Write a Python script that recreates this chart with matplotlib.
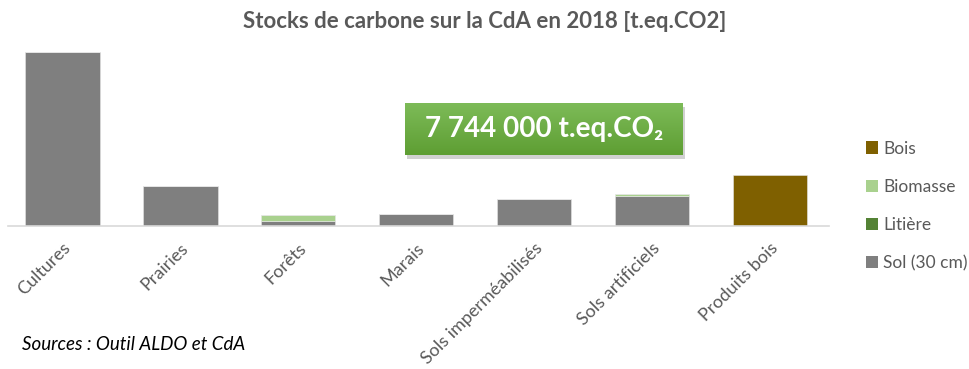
import matplotlib
matplotlib.use("Agg")
import matplotlib.pyplot as plt
import numpy as np
from matplotlib.patches import Patch, Rectangle

# Carbon stocks per land use, t.eq.CO2
categories = ["Cultures", "Prairies", "Forêts", "Marais",
              "Sols imperméabilisés", "Sols artificiels", "Produits bois"]
sol      = [3883000, 903000, 121000, 275000, 595000, 661000, 0]
litiere  = [0, 0, 0, 0, 0, 0, 0]
biomasse = [0, 0, 126000, 0, 0, 59000, 0]
bois     = [0, 0, 0, 0, 0, 0, 1146000]
total_label = "7 744 000 t.eq.CO₂"

series = [("Sol (30 cm)", sol, "#7F7F7F"),
          ("Litière", litiere, "#548235"),
          ("Biomasse", biomasse, "#A9D18E"),
          ("Bois", bois, "#7F6000")]

FONT = ["Lato", "DejaVu Sans"]
GREY_TXT = "#595959"

fig = plt.figure(figsize=(9.70, 3.69), dpi=100)
ax = fig.add_axes([3.5 / 970, 1 - 226 / 369, 825.5 / 970, 181 / 369])

x = np.arange(len(categories))
bottom = np.zeros(len(categories))
for name, vals, col in series:
    vals = np.array(vals, dtype=float)
    ax.bar(x, vals, 0.63, bottom=bottom, color=col, edgecolor="#E6E6E6",
           linewidth=0.4, label=name, zorder=2)
    bottom += vals

ax.set_xlim(-0.5, len(categories) - 0.5)
ax.set_ylim(0, max(bottom) * 181 / 174)
for s in ["top", "right", "left"]:
    ax.spines[s].set_visible(False)
ax.spines["bottom"].set_color("#D9D9D9")
ax.spines["bottom"].set_linewidth(1.2)
ax.spines["bottom"].set_bounds(-0.46, len(categories) - 0.5)
ax.set_yticks([])
ax.set_xticks(x)
ax.set_xticklabels(categories, rotation=45, ha="right", va="top",
                   rotation_mode="anchor", fontsize=13, color=GREY_TXT,
                   family=FONT)
ax.tick_params(axis="x", length=0, pad=10)

fig.text(0.5, 1 - 22 / 369, "Stocks de carbone sur la CdA en 2018 [t.eq.CO2]",
         ha="center", va="center", fontsize=16, fontweight="bold",
         color=GREY_TXT, family=FONT)

handles = [Patch(facecolor=c, edgecolor="none") for _, _, c in series][::-1]
labels = [n for n, _, _ in series][::-1]
fig.legend(handles, labels, loc="upper left",
           bbox_to_anchor=(850 / 970, 1 - 125 / 369), frameon=False,
           labelcolor=GREY_TXT, labelspacing=1.28, handlelength=0.7,
           handleheight=0.7, handletextpad=0.3,
           prop={"family": FONT, "size": 12.5})

# total stock callout: shadow + gradient box
bx0, by0, bw, bh = 405 / 970, 1 - 155 / 369, 278 / 970, 52 / 369
fig.patches.append(Rectangle((bx0 + 0.002, by0 - 0.012), bw, bh,
                             transform=fig.transFigure, facecolor="#000000",
                             alpha=0.18, edgecolor="none", zorder=3))
bax = fig.add_axes([bx0, by0, bw, bh], zorder=4)
grad = np.linspace(0, 1, 64).reshape(-1, 1)
top_c = np.array([0x7D, 0xBB, 0x58]) / 255
bot_c = np.array([0x5E, 0x9E, 0x33]) / 255
img = top_c[None, None, :] * (1 - grad[..., None]) + bot_c[None, None, :] * grad[..., None]
bax.imshow(img, aspect="auto", extent=[0, 1, 0, 1])
bax.set_axis_off()
bax.text(0.5, 0.5, total_label, ha="center", va="center", fontsize=20,
         fontweight="bold", color="white", family=FONT, transform=bax.transAxes)

fig.text(22 / 970, 1 - 345 / 369, "Sources : Outil ALDO et CdA", ha="left",
         va="center", fontsize=13.5, style="italic", color="black", family=FONT)

fig.savefig("out.png", dpi=100)
